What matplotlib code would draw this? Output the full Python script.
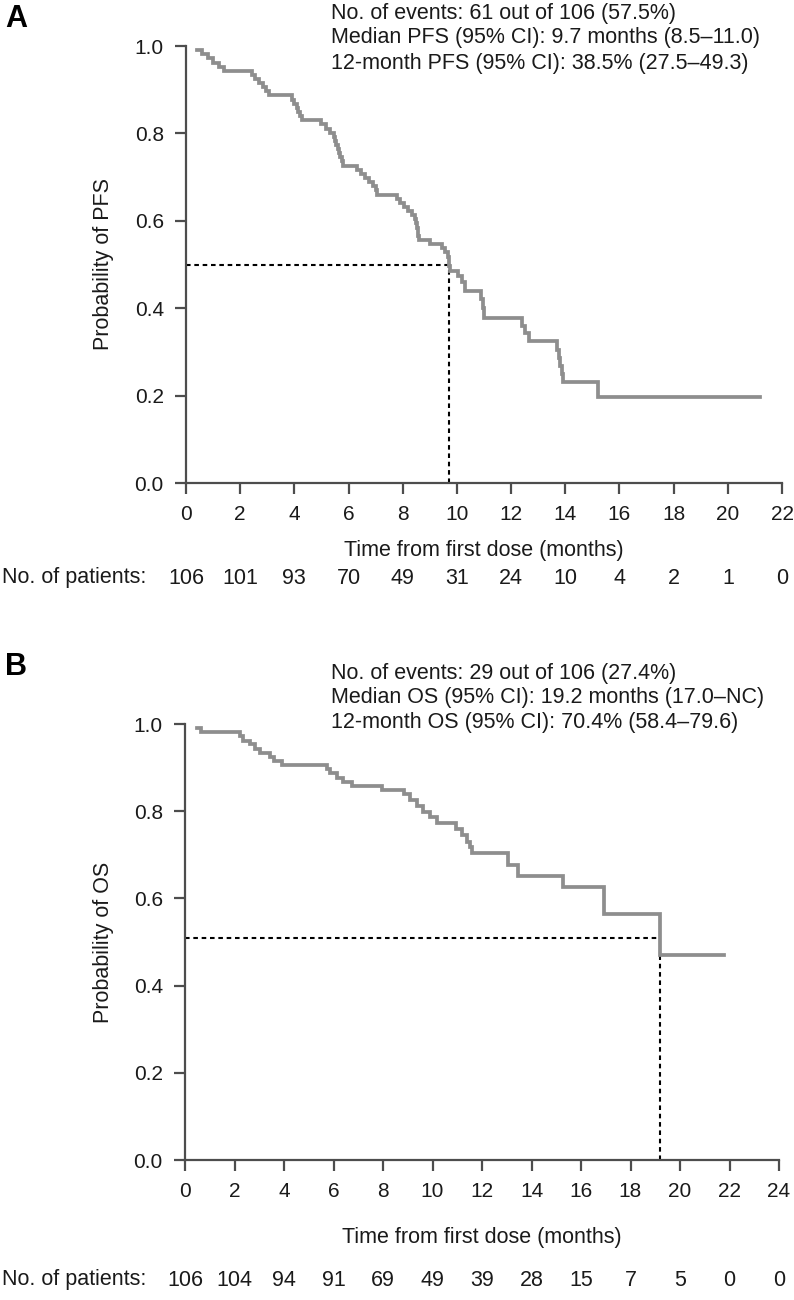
import matplotlib
matplotlib.use("Agg")
import matplotlib.pyplot as plt
from matplotlib.transforms import blended_transform_factory

# ---------------- data ----------------
# Panel A: progression-free survival (step points: time in months, survival from that time on)
pfs_time = [0.42, 0.6, 0.8, 1.0, 1.2, 1.42,
            2.42, 2.55, 2.7, 2.85, 2.95, 3.05,
            3.92, 4.0, 4.08, 4.15, 4.22, 4.27,
            5.0, 5.15, 5.3, 5.45, 5.5, 5.55, 5.6, 5.65, 5.7, 5.75, 5.8,
            6.3, 6.45, 6.6, 6.75, 6.9, 7.0, 7.05,
            7.8, 7.9, 8.05, 8.2, 8.35, 8.45, 8.5, 8.53, 8.56, 8.58, 8.6,
            9.0, 9.45, 9.55, 9.68, 9.7, 9.72, 9.75,
            10.05, 10.2, 10.3, 10.9, 10.95, 11.0,
            12.4, 12.5, 12.66, 13.68, 13.75, 13.82, 13.88, 13.93, 15.2]
pfs_surv = [0.991, 0.981, 0.972, 0.962, 0.953, 0.943,
            0.934, 0.925, 0.915, 0.906, 0.896, 0.887,
            0.877, 0.868, 0.858, 0.849, 0.840, 0.830,
            0.821, 0.811, 0.802, 0.792, 0.783, 0.774, 0.764, 0.755, 0.745, 0.736, 0.726,
            0.717, 0.707, 0.698, 0.689, 0.679, 0.670, 0.660,
            0.651, 0.641, 0.632, 0.622, 0.613, 0.603, 0.594, 0.584, 0.575, 0.566, 0.557,
            0.547, 0.538, 0.528, 0.518, 0.507, 0.497, 0.486,
            0.473, 0.459, 0.440, 0.420, 0.400, 0.378,
            0.360, 0.343, 0.324, 0.305, 0.286, 0.268, 0.250, 0.232, 0.197]
pfs_end = 21.2
pfs_median = 9.7
pfs_median_y = 0.50
pfs_xticks = [0, 2, 4, 6, 8, 10, 12, 14, 16, 18, 20, 22]
pfs_risk = [106, 101, 93, 70, 49, 31, 24, 10, 4, 2, 1, 0]
pfs_text = ["No. of events: 61 out of 106 (57.5%)",
            "Median PFS (95% CI): 9.7 months (8.5\u201311.0)",
            "12-month PFS (95% CI): 38.5% (27.5\u201349.3)"]

# Panel B: overall survival
os_time = [0.5, 0.65,
           2.22, 2.36, 2.63, 2.83, 3.03,
           3.45, 3.6, 3.9,
           5.75, 5.86, 6.13, 6.4, 6.74,
           7.95,
           8.85, 9.09, 9.36, 9.63, 9.9, 10.17,
           10.95, 11.18, 11.39, 11.5, 11.6,
           13.07, 13.47, 15.29, 16.91, 19.2]
os_surv = [0.991, 0.981,
           0.972, 0.962, 0.953, 0.943, 0.934,
           0.925, 0.915, 0.906,
           0.896, 0.887, 0.877, 0.868, 0.858,
           0.849,
           0.839, 0.826, 0.812, 0.799, 0.786, 0.773,
           0.760, 0.745, 0.730, 0.717, 0.704,
           0.677, 0.652, 0.626, 0.564, 0.470]
os_end = 21.76
os_median = 19.2
os_median_y = 0.51
os_xticks = [0, 2, 4, 6, 8, 10, 12, 14, 16, 18, 20, 22, 24]
os_risk = [106, 104, 94, 91, 69, 49, 39, 28, 15, 7, 5, 0, 0]
os_text = ["No. of events: 29 out of 106 (27.4%)",
           "Median OS (95% CI): 19.2 months (17.0\u2013NC)",
           "12-month OS (95% CI): 70.4% (58.4\u201379.6)"]

yticks = [0.0, 0.2, 0.4, 0.6, 0.8, 1.0]

# ---------------- style ----------------
FAM = ['Liberation Sans', 'DejaVu Sans']
plt.rcParams['font.family'] = FAM
FS = 15.5
TFS = 15
W, H = 794, 1300
CURVE = '#8e8e8e'
AXC = '#4d4d4d'
TXT = '#1a1a1a'

fig = plt.figure(figsize=(W / 100, H / 100), dpi=100)


def fx(px):
    return px / W


def fy(py):
    return 1 - py / H


def panel(box, time, surv, end, median, median_y, xticks, risk, texts,
          ylabel, letter, letter_y, text_y0, xlabel_y, risk_y):
    left, right, top, bottom = box
    ax = fig.add_axes([fx(left), fy(bottom), fx(right - left), (bottom - top) / H])
    ax.step(time + [end], surv + [surv[-1]], where='post', color=CURVE,
            lw=2.7, solid_joinstyle='miter', clip_on=False, zorder=3)
    dash = (0, (2.2, 1.8))
    ax.plot([0, median], [median_y, median_y], color='black', lw=1.5,
            linestyle=dash, zorder=2)
    below = [s for t, s in zip(time, surv) if t <= median][-1]
    ax.plot([median, median], [0, min(median_y, below)],
            color='black', lw=1.5, linestyle=dash, zorder=2)
    ax.set_xlim(xticks[0], xticks[-1])
    ax.set_ylim(0, 1)
    ax.set_xticks(xticks)
    ax.set_xticklabels([str(t) for t in xticks])
    ax.set_yticks(yticks)
    ax.set_yticklabels(['%.1f' % v for v in yticks])
    for s in ['top', 'right']:
        ax.spines[s].set_visible(False)
    for s in ['left', 'bottom']:
        ax.spines[s].set_color(AXC)
        ax.spines[s].set_linewidth(1.6)
    ax.tick_params(axis='both', direction='out', length=8, width=1.6,
                   color=AXC, labelsize=TFS, labelcolor=TXT)
    ax.tick_params(axis='x', pad=8)
    ax.tick_params(axis='y', pad=8)
    fig.text(fx(103), fy((top + bottom) / 2), ylabel, rotation=90,
             ha='center', va='center', fontsize=FS, color=TXT)
    fig.text(fx((left + right) / 2), fy(xlabel_y), 'Time from first dose (months)',
             ha='center', va='center', fontsize=FS, color=TXT)
    tr = blended_transform_factory(ax.transData, fig.transFigure)
    fig.text(fx(2), fy(risk_y), 'No. of patients:', ha='left', va='center',
             fontsize=FS, color=TXT)
    for t, n in zip(xticks, risk):
        ax.text(t, fy(risk_y), str(n), transform=tr, ha='center', va='center',
                fontsize=FS, color=TXT, clip_on=False)
    fig.text(fx(5), fy(letter_y), letter, ha='left', va='center',
             fontsize=22, fontweight='bold', color='black')
    for i, s in enumerate(texts):
        fig.text(fx(331), fy(text_y0 + 25 * i), s, ha='left', va='center',
                 fontsize=FS, color=TXT)
    return ax


panel((186, 782, 46, 483), pfs_time, pfs_surv, pfs_end, pfs_median, pfs_median_y,
      pfs_xticks, pfs_risk, pfs_text, 'Probability of PFS', 'A', 19, 13, 550, 578)
panel((185, 779, 724, 1160), os_time, os_surv, os_end, os_median, os_median_y,
      os_xticks, os_risk, os_text, 'Probability of OS', 'B', 667, 673, 1238, 1280)

fig.savefig('out.png', dpi=100)
